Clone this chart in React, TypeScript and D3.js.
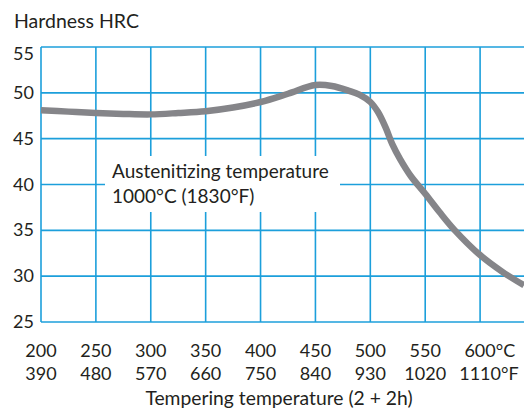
import React from 'react'
import * as d3 from 'd3';

const tempC = [200, 250, 300, 350, 400, 450, 500, 550, 600];
const tempF = [390, 480, 570, 660, 750, 840, 930, 1020, 1110];
const hrcTicks = [25, 30, 35, 40, 45, 50, 55];

// tempering curve: [°C, HRC]
const curveT = [200, 225, 250, 275, 300, 325, 350, 375, 400, 425, 450, 465, 480, 490, 500, 507, 514, 520, 527, 537, 550, 563, 577, 600, 620, 640];
const curveHRC = [48.1, 47.95, 47.8, 47.7, 47.65, 47.8, 48.0, 48.4, 49.0, 49.9, 50.85, 50.75, 50.25, 49.8, 49.0, 47.9, 46.2, 44.4, 42.8, 40.9, 39.0, 37.0, 35.0, 32.3, 30.5, 29.0];

const FONT = 'Lato, "Open Sans", sans-serif';
const GRID = '#1c9fdb';
const TXT = '#231f20';

const App = () => {
  const x = d3.scaleLinear().domain([200, 640]).range([41, 524]);
  const y = d3.scaleLinear().domain([25, 55]).range([322, 47]);

  const line = d3.line<number>()
    .x((d, i) => x(curveT[i]))
    .y((d) => y(d))
    .curve(d3.curveCatmullRom.alpha(0.5));

  const fs = 18;

  return (
    <svg width={524} height={414} style={{ position: 'absolute', left: 0, top: 0 }} fontFamily={FONT}>
      <rect width={524} height={414} fill='#fff' />
      <text x={14} y={28} fontSize={19.5} fill={TXT}>Hardness HRC</text>

      <g>
        {hrcTicks.map((t) =>
          <line key={'h' + t} x1={x(200)} x2={524} y1={y(t)} y2={y(t)} stroke={GRID} strokeWidth={1.6} />
        )}
        {tempC.map((t) =>
          <line key={'v' + t} x1={x(t)} x2={x(t)} y1={y(55)} y2={y(25)} stroke={GRID} strokeWidth={1.6} />
        )}
      </g>

      <path d={line(curveHRC) || ''} fill='none' stroke='#858589' strokeWidth={6.5} />

      <rect x={105} y={156} width={235} height={56} fill='#fff' />
      <text x={112} y={178} fontSize={19} fill={TXT}>Austenitizing temperature</text>
      <text x={112} y={203} fontSize={19} fill={TXT}>1000°C (1830°F)</text>

      <g fontSize={fs} fill={TXT}>
        {hrcTicks.map((t) =>
          <text key={'yl' + t} x={34} y={y(t) + (t === 55 ? 13 : 6)} textAnchor='end'>{t}</text>
        )}
        {tempC.map((t, i) =>
          <g key={'xl' + t}>
            <text x={x(t)} y={357} textAnchor='middle'>{t}</text>
            <text x={x(t)} y={380} textAnchor='middle'>{tempF[i]}</text>
            {i === tempC.length - 1 && <>
              <text x={x(t) + String(t).length * 0.29 * fs} y={357}>°C</text>
              <text x={x(t) + String(tempF[i]).length * 0.29 * fs} y={380}>°F</text>
            </>}
          </g>
        )}
        <text x={279} y={405} textAnchor='middle' fontSize={19.3}>Tempering temperature (2 + 2h)</text>
      </g>
    </svg>
  )
}

export default App
